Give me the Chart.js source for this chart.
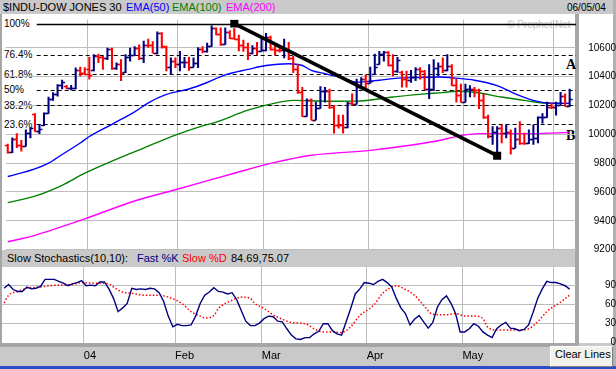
<!DOCTYPE html>
<html>
<head>
<meta charset="utf-8">
<script src="https://cdn.jsdelivr.net/npm/chart.js@4.4.1/dist/chart.umd.min.js"></script>
<style>
  body { margin: 0; width: 616px; height: 369px; overflow: hidden; position: relative;
         background: #c9c9c9; font-family: "Liberation Sans", Arial, sans-serif; }
  .box { position: absolute; }
  .txt { position: absolute; white-space: nowrap; font-size: 11px; line-height: 1; color: #000; }
  .fib { position: absolute; left: 4px; white-space: nowrap; font-size: 10px; line-height: 1; color: #000; }
  .mark { position: absolute; font-family: "Liberation Serif", "Times New Roman", serif;
          font-weight: bold; font-size: 14px; line-height: 1; color: #000; }
  canvas { position: absolute; left: 0; }
  #clear { position: absolute; left: 550px; top: 346px; width: 61px; height: 19px; background: #f2f1ea;
           border-top: 1px solid #fff; border-left: 1px solid #fff;
           border-right: 1px solid #808080; border-bottom: 1px solid #808080; }
</style>
</head>
<body>
<!-- panel backgrounds -->
<div class="box" style="left:2px;top:14px;width:573px;height:236px;background:#fff"></div>
<div class="box" style="left:579px;top:14px;width:34px;height:329px;background:#fff"></div>
<div class="box" style="left:2px;top:267px;width:573px;height:76px;background:#fff"></div>
<div class="box" style="left:0;top:14px;width:2px;height:333px;background:#a6a6a6"></div>
<div class="box" style="left:575px;top:14px;width:4px;height:333px;background:#a6a6a6"></div>
<div class="box" style="left:613px;top:0;width:3px;height:366px;background:#b2b2b2"></div>
<div class="box" style="left:0;top:343px;width:579px;height:4px;background:#a6a6a6"></div>
<div class="box" style="left:0;top:366px;width:616px;height:3px;background:#2c4cc8"></div>

<!-- title bar -->
<div class="txt" style="left:3px;top:2px">$INDU-DOW JONES 30</div>
<div class="txt" style="left:126px;top:2px;color:#0000ff">EMA(50)</div>
<div class="txt" style="left:172px;top:2px;color:#008000">EMA(100)</div>
<div class="txt" style="left:226px;top:2px;color:#ff00ff">EMA(200)</div>
<div class="txt" style="left:567px;top:3px;font-size:10px">06/05/04</div>
<div class="txt" style="left:507px;top:20px;font-size:10px;color:#c4c4c4">&copy; Prophet.Net</div>

<!-- stochastics header -->
<div class="txt" style="left:7px;top:253px">Slow Stochastics(10,10):</div>
<div class="txt" style="left:137px;top:253px;color:#000080">Fast %K</div>
<div class="txt" style="left:182px;top:253px;color:#ff0000">Slow %D</div>
<div class="txt" style="left:231px;top:253px">84.69,75.07</div>

<div class="mark" style="left:566px;top:58px">A</div>
<div class="mark" style="left:566px;top:129px">B</div>

<canvas id="mainChart" width="616" height="245" style="top:14px"></canvas>
<canvas id="stochChart" width="616" height="106" style="top:263px"></canvas>

<div id="clear"></div>
<div class="txt" style="left:555px;top:349px">Clear Lines</div>

<script>
"use strict";

// Daily bars, 5 Dec 2003 .. 4 Jun 2004 (index 0 .. 124)
const opens = [
  9925, 9880, 9968, 9925, 9922, 10008, 10140, 10020, 10065, 10145,
  10248, 10278, 10340, 10338, 10320, 10325, 10450, 10425, 10452, 10445,
  10544, 10538, 10529, 10592, 10458, 10485, 10430, 10538, 10553, 10600,
  10528, 10623, 10620, 10568, 10702, 10608, 10468, 10510, 10488, 10499,
  10505, 10470, 10495, 10593, 10579, 10613, 10737, 10694, 10627, 10714,
  10671, 10664, 10619, 10609, 10566, 10601, 10580, 10583, 10678, 10591,
  10588, 10586, 10595, 10529, 10457, 10296, 10128, 10240, 10103, 10185,
  10300, 10302, 10187, 10065, 10064, 10048, 10219, 10213, 10330, 10382,
  10358, 10420, 10490, 10558, 10571, 10480, 10442, 10430, 10381, 10378,
  10397, 10452, 10438, 10315, 10317, 10461, 10473, 10445, 10478, 10343,
  10272, 10226, 10314, 10317, 10311, 10241, 10117, 9990, 10019, 10045,
  10011, 10013, 9907, 9968, 9938, 9937, 9967, 9975, 10118, 10120,
  10188, 10187, 10203, 10263, 10196
];
const highs = [
  9932, 9975, 10005, 9959, 10032, 10045, 10145, 10070, 10150, 10259,
  10290, 10345, 10376, 10340, 10340, 10462, 10467, 10463, 10535, 10553,
  10558, 10542, 10599, 10599, 10497, 10519, 10553, 10599, 10610, 10621,
  10648, 10662, 10644, 10712, 10707, 10612, 10531, 10531, 10576, 10535,
  10535, 10531, 10603, 10610, 10633, 10753, 10739, 10739, 10739, 10720,
  10735, 10689, 10655, 10633, 10617, 10639, 10678, 10701, 10682, 10621,
  10610, 10662, 10639, 10542, 10485, 10326, 10247, 10247, 10224, 10331,
  10327, 10315, 10202, 10134, 10134, 10224, 10281, 10383, 10395, 10413,
  10467, 10558, 10576, 10576, 10575, 10553, 10535, 10440, 10440, 10444,
  10463, 10463, 10445, 10485, 10519, 10497, 10531, 10553, 10485, 10383,
  10349, 10349, 10338, 10327, 10315, 10281, 10134, 10054, 10054, 10066,
  10066, 10032, 10043, 10088, 10009, 10032, 10066, 10122, 10145, 10224,
  10216, 10224, 10292, 10281, 10315
];
const lows = [
  9869, 9873, 9907, 9884, 9918, 9975, 10020, 10005, 10060, 10145,
  10236, 10265, 10315, 10315, 10308, 10315, 10406, 10413, 10383, 10440,
  10497, 10451, 10519, 10451, 10451, 10372, 10429, 10508, 10550, 10519,
  10497, 10603, 10565, 10558, 10599, 10440, 10417, 10463, 10440, 10463,
  10444, 10467, 10463, 10565, 10571, 10610, 10690, 10617, 10625, 10665,
  10660, 10580, 10576, 10519, 10558, 10553, 10576, 10580, 10585, 10549,
  10570, 10531, 10519, 10429, 10285, 10122, 10125, 10100, 10100, 10180,
  10224, 10180, 10009, 10043, 10009, 10045, 10202, 10210, 10315, 10315,
  10355, 10417, 10485, 10508, 10475, 10406, 10430, 10327, 10327, 10361,
  10372, 10383, 10310, 10247, 10304, 10406, 10429, 10440, 10338, 10224,
  10224, 10224, 10259, 10259, 10179, 10110, 9975, 9930, 9852, 9941,
  9975, 9862, 9905, 9930, 9930, 9935, 9930, 9941, 10077, 10118,
  10179, 10134, 10200, 10195, 10194
];
const closes = [
  9875, 9965, 9923, 9921, 10008, 10042, 10022, 10040, 10145, 10248,
  10278, 10341, 10360, 10320, 10325, 10450, 10425, 10418, 10409, 10544,
  10538, 10529, 10592, 10458, 10485, 10427, 10538, 10553, 10600, 10528,
  10623, 10620, 10568, 10702, 10610, 10468, 10510, 10488, 10499, 10505,
  10470, 10495, 10593, 10579, 10613, 10737, 10694, 10627, 10714, 10671,
  10664, 10619, 10609, 10566, 10601, 10580, 10583, 10678, 10591, 10588,
  10586, 10595, 10529, 10457, 10296, 10128, 10240, 10103, 10185, 10300,
  10302, 10187, 10065, 10064, 10048, 10219, 10213, 10330, 10382, 10358,
  10373, 10471, 10558, 10571, 10480, 10442, 10516, 10381, 10378, 10397,
  10452, 10438, 10315, 10317, 10461, 10473, 10445, 10478, 10343, 10272,
  10226, 10314, 10317, 10311, 10241, 10117, 9990, 10019, 10045, 10011,
  10013, 9907, 9968, 9938, 9937, 9967, 9975, 10118, 10120, 10188,
  10187, 10203, 10263, 10196, 10243
];

// Moving averages, [bar index, value]
const ema50 = [[0, 9707], [6, 9760], [9, 9800], [12, 9860], [16, 9940], [18, 9985], [23, 10070],
  [28, 10156], [31, 10218], [35, 10277], [40, 10315], [44, 10360], [48, 10413], [53, 10451],
  [57, 10478], [62, 10490], [65, 10478], [67, 10444], [70, 10422], [74, 10390], [77, 10362],
  [82, 10376], [86, 10390], [91, 10395], [95, 10398], [99, 10390], [103, 10376], [108, 10338],
  [112, 10281], [116, 10236], [119, 10218], [124, 10215]];
const ema100 = [[0, 9526], [6, 9571], [12, 9646], [17, 9730], [23, 9814], [30, 9905], [37, 9995],
  [43, 10059], [46, 10085], [53, 10168], [60, 10224], [63, 10236], [71, 10230], [77, 10231],
  [85, 10259], [92, 10281], [96, 10290], [99, 10299], [103, 10292], [109, 10259], [115, 10231],
  [118, 10218], [124, 10215]];
const ema200 = [[0, 9254], [6, 9299], [17, 9413], [28, 9537], [38, 9624], [50, 9730], [58, 9798],
  [67, 9855], [80, 9889], [94, 9950], [100, 9991], [104, 10005], [116, 10005], [124, 10014]];

// Trend line from the February high to the May low (also the Fibonacci range)
const trendIdx = [50, 108];
const trendVal = [10769, 9852];
const fibRatios = [1, 0.764, 0.618, 0.5, 0.382, 0.236];
const fibLabels = ["100%", "76.4%", "61.8%", "50%", "38.2%", "23.6%"];

// Slow stochastics
const stochK = [
  86, 92, 84, 81, 81, 88, 85, 86, 89, 100,
  100, 100, 97, 94, 90, 93, 95, 98, 90, 91,
  90, 96, 96, 85, 70, 49, 55, 62, 86, 84,
  85, 84, 86, 85, 79, 65, 42, 25, 29, 27,
  27, 28, 42, 62, 75, 80, 87, 81, 80, 77,
  79, 68, 51, 34, 27, 27, 31, 38, 42, 41,
  34, 33, 22, 12, 6, 5, 8, 8, 14, 18,
  30, 30, 19, 14, 12, 33, 54, 77, 85, 95,
  94, 92, 97, 100, 95, 88, 70, 55, 46, 28,
  37, 43, 33, 23, 32, 56, 68, 74, 62, 46,
  17, 17, 22, 30, 26, 17, 12, 8, 22, 28,
  32, 23, 22, 19, 21, 28, 48, 70, 85, 97,
  95, 95, 93, 90, 84.69
];
const stochD = [[0, 63], [1, 75], [3, 81], [5, 86], [8, 88], [10, 90], [12, 91], [15, 92], [17, 95],
  [20, 94], [23, 93], [24, 88], [26, 80], [28, 78], [31, 75], [34, 75], [36, 72], [39, 62], [41, 49],
  [43, 42], [44, 39], [46, 43], [47, 54], [50, 67], [52, 72], [54, 70], [55, 62], [57, 54], [59, 44],
  [61, 37], [63, 32], [66, 30], [68, 22], [70, 17], [72, 17], [74, 16], [76, 25], [78, 43], [81, 59],
  [83, 78], [85, 88], [86, 90], [88, 84], [90, 75], [92, 59], [94, 45], [97, 44], [99, 46], [101, 42],
  [103, 42], [105, 38], [106, 25], [108, 20], [111, 20], [113, 20], [115, 22], [117, 33], [119, 49],
  [122, 64], [124, 75.07]];

// Axes
const priceTicks = [9200, 9400, 9600, 9800, 10000, 10200, 10400, 10600];
const stochTicks = [0, 30, 60, 90];
const monthStarts = [18, 38, 57, 80, 101, 121];
const monthLabels = ["04", "Feb", "Mar", "Apr", "May", ""];

Chart.defaults.font.family = '"Liberation Sans", Arial, sans-serif';
Chart.defaults.color = "#000";

const RED = "#ff0000";
const NAVY = "#000080";
const GRID = "#bdbdbd";

const barColors = closes.map((c, i) => {
  const ref = i === 0 ? opens[0] : closes[i - 1];
  return c < ref ? RED : NAVY;
});

const fibLevels = fibRatios.map((r) => trendVal[1] + (trendVal[0] - trendVal[1]) * r);
const monthGrid = monthStarts.map((m) => m - 0.5);

const toPts = (pairs) => pairs.map(([x, y]) => ({ x, y }));

// x scale shared by both panels
function xScale(showLabels) {
  return {
    type: "linear",
    min: -0.45,
    max: 125.4,
    offset: false,
    afterBuildTicks: (s) => { s.ticks = monthGrid.map((v) => ({ value: v })); },
    afterFit: (s) => { s.height = showLabels ? 26 : 0; s.paddingLeft = 0; s.paddingRight = 0; },
    grid: { color: GRID, lineWidth: 1, drawTicks: false, offset: false },
    border: { display: false },
    ticks: {
      display: showLabels,
      autoSkip: false,
      maxRotation: 0,
      align: "start",
      padding: 6,
      font: { size: 11 },
      callback: (v, i) => monthLabels[i],
    },
  };
}

// Fibonacci retracement lines
const fibLines = {
  id: "fibLines",
  beforeDatasetsDraw(chart) {
    const { ctx, chartArea, scales } = chart;
    ctx.save();
    ctx.strokeStyle = "#000";
    fibLevels.forEach((lv, i) => {
      const y = Math.round(scales.y.getPixelForValue(lv)) + 0.5;
      ctx.lineWidth = i === 0 ? 1.5 : 1;
      ctx.setLineDash(i === 0 ? [] : [4, 3]);
      ctx.beginPath();
      ctx.moveTo(chartArea.left + 31, y);
      ctx.lineTo(chartArea.right, y);
      ctx.stroke();
    });
    ctx.restore();
  },
};

// open / close ticks on the price bars
const ohlcTicks = {
  id: "ohlcTicks",
  afterDatasetDraw(chart, args) {
    if (args.index !== 1) return;
    const { ctx, scales: { x, y } } = chart;
    ctx.save();
    ctx.lineWidth = 1.3;
    closes.forEach((c, i) => {
      const px = x.getPixelForValue(i);
      const yo = Math.round(y.getPixelForValue(opens[i])) + 0.5;
      const yc = Math.round(y.getPixelForValue(c)) + 0.5;
      ctx.strokeStyle = barColors[i];
      ctx.beginPath();
      ctx.moveTo(px - 3, yo);
      ctx.lineTo(px, yo);
      ctx.moveTo(px, yc);
      ctx.lineTo(px + 3, yc);
      ctx.stroke();
    });
    ctx.restore();
  },
};

const mainChart = new Chart(document.getElementById("mainChart"), {
  type: "line",
  data: {
    datasets: [
      {
        label: "trend",
        data: [{ x: trendIdx[0], y: trendVal[0] }, { x: trendIdx[1], y: trendVal[1] }],
        borderColor: "#000",
        borderWidth: 3.6,
        pointStyle: "rect",
        pointRadius: 5.7,
        pointBorderWidth: 0,
        pointBackgroundColor: "#000",
        order: 0,
      },
      {
        type: "bar",
        label: "ohlc",
        data: highs.map((h, i) => ({ x: i, y: [lows[i], h] })),
        backgroundColor: barColors,
        barThickness: 1.4,
        grouped: false,
        borderWidth: 0,
        order: 1,
      },
      { label: "EMA(50)", data: toPts(ema50), borderColor: "#0000ff", borderWidth: 1.4,
        pointRadius: 0, cubicInterpolationMode: "monotone", order: 2 },
      { label: "EMA(100)", data: toPts(ema100), borderColor: "#008000", borderWidth: 1.4,
        pointRadius: 0, cubicInterpolationMode: "monotone", order: 2 },
      { label: "EMA(200)", data: toPts(ema200), borderColor: "#ff00ff", borderWidth: 1.4,
        pointRadius: 0, cubicInterpolationMode: "monotone", order: 2 },
    ],
  },
  options: {
    responsive: false,
    animation: false,
    layout: { padding: { left: 2, top: 1, right: 0, bottom: 9 } },
    plugins: { legend: { display: false }, tooltip: { enabled: false } },
    scales: {
      x: xScale(false),
      y: {
        position: "right",
        min: 9197,
        max: 10796,
        afterBuildTicks: (s) => { s.ticks = priceTicks.map((v) => ({ value: v })); },
        afterFit: (s) => { s.width = 40; s.paddingTop = 0; s.paddingBottom = 0; },
        grid: { color: GRID, lineWidth: 1, drawTicks: false },
        border: { display: false },
        ticks: { crossAlign: "far", padding: 1, font: { size: 10 }, callback: (v) => String(v) },
      },
    },
  },
  plugins: [fibLines, ohlcTicks],
});

// Fibonacci labels as page text, placed on their lines
const mainCanvas = document.getElementById("mainChart");
fibLevels.forEach((lv, i) => {
  const d = document.createElement("div");
  d.className = "fib";
  d.textContent = fibLabels[i];
  d.style.top = (14 + mainChart.scales.y.getPixelForValue(lv) - 4.5) + "px";
  document.body.insertBefore(d, mainCanvas);
});

new Chart(document.getElementById("stochChart"), {
  type: "line",
  data: {
    datasets: [
      { label: "Fast %K", data: stochK.map((v, i) => ({ x: i, y: v })), borderColor: NAVY,
        borderWidth: 1.4, pointRadius: 0, tension: 0 },
      { label: "Slow %D", data: toPts(stochD), borderColor: RED, borderWidth: 1.5,
        borderDash: [1.5, 2], pointRadius: 0, cubicInterpolationMode: "monotone" },
    ],
  },
  options: {
    responsive: false,
    animation: false,
    layout: { padding: { left: 2, top: 4, right: 0, bottom: 0 } },
    plugins: { legend: { display: false }, tooltip: { enabled: false } },
    scales: {
      x: xScale(true),
      y: {
        position: "right",
        min: -0.5,
        max: 119.6,
        afterBuildTicks: (s) => { s.ticks = stochTicks.map((v) => ({ value: v })); },
        afterFit: (s) => { s.width = 40; s.paddingTop = 0; s.paddingBottom = 0; },
        grid: {
          drawTicks: false,
          lineWidth: 1,
          color: (c) => (c.tick && c.tick.value === 0 ? "rgba(0,0,0,0)" : GRID),
        },
        border: { display: false },
        ticks: { crossAlign: "far", padding: 18, font: { size: 10 }, callback: (v) => String(v) },
      },
    },
  },
});
</script>
</body>
</html>
